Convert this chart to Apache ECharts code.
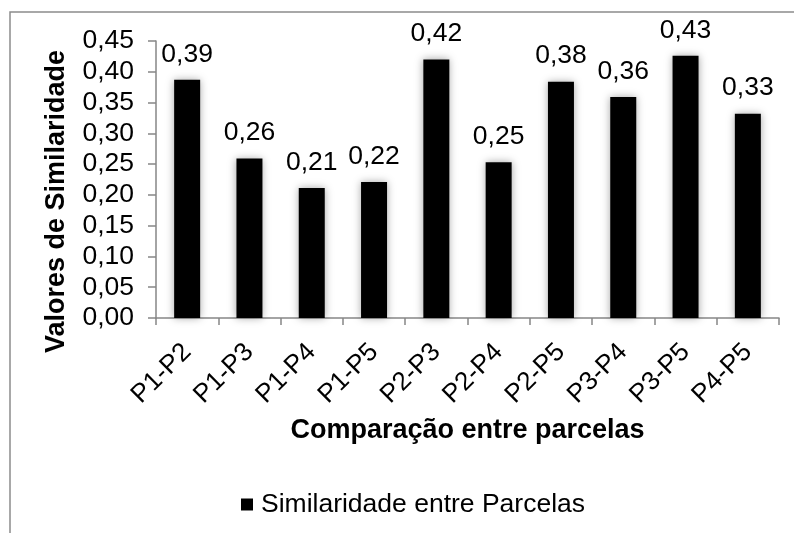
<!DOCTYPE html>
<html>
<head>
<meta charset="utf-8">
<script src="https://cdn.jsdelivr.net/npm/echarts@6/dist/echarts.min.js"></script>
<style>
  html, body { margin: 0; padding: 0; background: #fff; }
  #chart { width: 794px; height: 533px; }
</style>
</head>
<body>
<div id="chart"></div>
<script>
// 数据
const categories = ['P1-P2', 'P1-P3', 'P1-P4', 'P1-P5', 'P2-P3', 'P2-P4', 'P2-P5', 'P3-P4', 'P3-P5', 'P4-P5'];
const values = [0.387, 0.259, 0.211, 0.221, 0.420, 0.253, 0.384, 0.359, 0.426, 0.332];
const seriesName = 'Similaridade entre Parcelas';
const yTitle = 'Valores de Similaridade';
const xTitle = 'Comparação entre parcelas';

const font = 'Liberation Sans, Arial, sans-serif';
const axisGray = '#868686';

// 小数点用逗号
function fmt(v) {
    return v.toFixed(2).replace('.', ',');
}

const chart = echarts.init(document.getElementById('chart'));

const option = {
    animation: false,
    textStyle: { fontFamily: font, color: '#000' },
    graphic: [{
        type: 'rect',
        shape: { x: 10, y: 12, width: 800, height: 540 },
        style: { fill: 'none', stroke: '#8c8c8c', lineWidth: 1.5 },
        silent: true
    }],
    grid: {
        left: 156,
        right: 15,
        top: 41,
        bottom: 215,
        containLabel: false
    },
    legend: {
        left: 236,
        top: 486,
        icon: 'rect',
        itemWidth: 12,
        itemHeight: 12,
        textStyle: { fontSize: 26.5, color: '#000', fontFamily: font, padding: [0, 0, 0, 3] },
        data: [seriesName]
    },
    xAxis: {
        type: 'category',
        data: categories,
        name: xTitle,
        nameLocation: 'middle',
        nameGap: 99,
        nameTextStyle: { fontSize: 27, fontWeight: 'bold', color: '#000', fontFamily: font },
        axisLine: { lineStyle: { color: axisGray, width: 1.5 } },
        axisTick: { show: true, length: 7, inside: false, lineStyle: { color: axisGray, width: 1.5 } },
        axisLabel: { rotate: 45, margin: 30, fontSize: 26, color: '#000', fontFamily: font, interval: 0 }
    },
    yAxis: {
        type: 'value',
        min: 0,
        max: 0.45,
        interval: 0.05,
        name: yTitle,
        nameLocation: 'middle',
        nameGap: 86,
        nameTextStyle: { fontSize: 27, fontWeight: 'bold', color: '#000', fontFamily: font, padding: [0, 44, 0, 0] },
        axisLine: { show: true, lineStyle: { color: axisGray, width: 1.5 } },
        axisTick: { show: true, length: 8, inside: false, lineStyle: { color: axisGray, width: 1.5 } },
        splitLine: { show: false },
        axisLabel: {
            margin: 22,
            fontSize: 26.5,
            color: '#000',
            fontFamily: font,
            formatter: function (v) { return fmt(v); }
        }
    },
    series: [{
        name: seriesName,
        type: 'bar',
        data: values,
        barWidth: 26,
        itemStyle: {
            color: '#000',
            shadowColor: 'rgba(0,0,0,0.35)',
            shadowBlur: 8
        },
        label: {
            show: true,
            position: 'top',
            distance: 12,
            fontSize: 26.5,
            color: '#000',
            fontFamily: font,
            formatter: function (p) { return fmt(p.value); }
        }
    }]
};

chart.setOption(option);
</script>
</body>
</html>
